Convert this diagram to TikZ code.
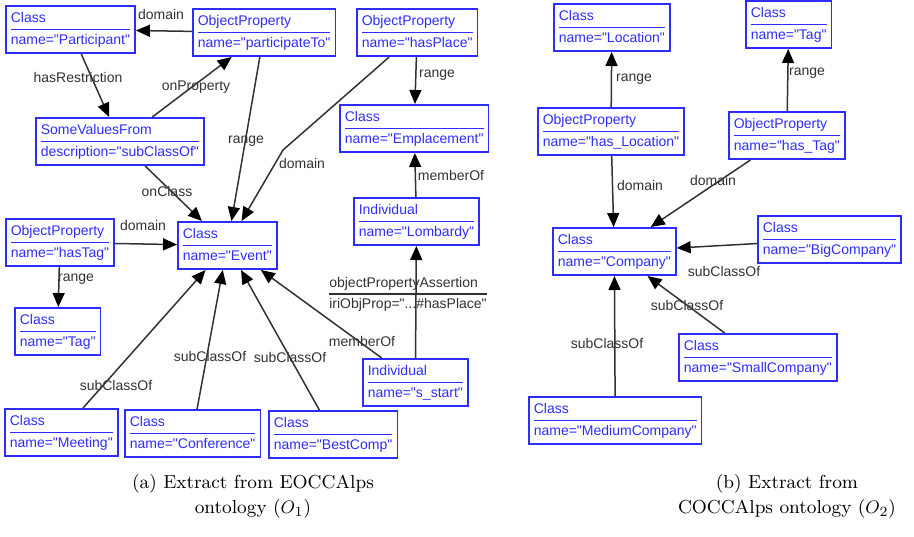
\documentclass[tikz,border=0pt]{standalone}
\usepackage{fontspec}
\usetikzlibrary{arrows.meta}
\newfontfamily\owlfont{Liberation Sans}
\definecolor{owlblue}{RGB}{45,45,255}
\definecolor{owlgray}{RGB}{50,50,50}
\setlength{\arrayrulewidth}{0.7pt}
\newcommand{\owlrec}[2]{\begin{tabular}{@{}l@{}}#1\\\hline #2\end{tabular}}
\tikzset{every picture/.style={line width=0.75pt}}
\tikzset{
  owlbox/.style={draw=owlblue, text=owlblue, line width=0.8pt, inner xsep=2.5pt, inner ysep=1.5pt, anchor=north west, font=\owlfont\fontsize{7}{10}\selectfont},
  owlarrow/.style={draw=owlgray, line width=0.75pt, -{Triangle[length=7pt,width=6pt,color=black]}},
  owllabel/.style={text=owlgray, inner sep=0pt, font=\owlfont\fontsize{7}{10}\selectfont},
  owlcaption/.style={anchor=north, inner sep=0pt, align=center, font=\fontsize{9.4}{12.4}\selectfont}
}

\begin{document}
\begin{tikzpicture}[x=0.5pt,y=0.5pt,yscale=-1]
\useasboundingbox (0,0) rectangle (914,536);

% (a) EOCCAlps boxes
\node[owlbox] (participant) at (5,5) {\owlrec{Class}{name="Participant"}};
\node[owlbox] (participateTo) at (192,8) {\owlrec{ObjectProperty}{name="participateTo"}};
\node[owlbox] (hasPlace) at (356,8) {\owlrec{ObjectProperty}{name="hasPlace"}};
\node[owlbox] (emplacement) at (339,104) {\owlrec{Class}{name="Emplacement"}};
\node[owlbox] (lombardy) at (353,197) {\owlrec{Individual}{name="Lombardy"}};
\node[owlbox] (someValues) at (35,117) {\owlrec{SomeValuesFrom}{description="subClassOf"}};
\node[owlbox] (event) at (177,221) {\owlrec{Class}{name="Event"}};
\node[owlbox] (hasTag) at (5,218) {\owlrec{ObjectProperty}{name="hasTag"}};
\node[owlbox] (tagA) at (14,307) {\owlrec{Class}{name="Tag"}};
\node[owlbox] (meeting) at (4,408) {\owlrec{Class}{name="Meeting"}};
\node[owlbox] (conference) at (124,409) {\owlrec{Class}{name="Conference"}};
\node[owlbox] (bestComp) at (268,410) {\owlrec{Class}{name="BestComp"}};
\node[owlbox] (sStart) at (362,358) {\owlrec{Individual}{name="s\_start"}};

% (a) edges
\draw[owlarrow] (participateTo) -- (participant);
\draw[owlarrow] (participant) -- (someValues);
\draw[owlarrow] (someValues) -- (participateTo);
\draw[owlarrow] (someValues) -- (event);
\draw[owlarrow] (participateTo) -- (event);
\coordinate (placeBend) at (283,150);
\draw[owlarrow] (hasPlace) -- (placeBend) -- (event);
\draw[owlarrow] (hasPlace) -- (emplacement);
\draw[owlarrow] (lombardy) -- (emplacement);
\draw[owlarrow] (sStart) -- (lombardy);
\draw[owlarrow] (sStart) -- (event);
\draw[owlarrow] (hasTag) -- (event);
\draw[owlarrow] (hasTag) -- (tagA);
\draw[owlarrow] (meeting) -- (event);
\draw[owlarrow] (conference) -- (event);
\draw[owlarrow] (bestComp) -- (event);

% (a) edge labels
\node[owllabel] (lDomPart) at (161,14) {domain};
\node[owllabel] (lRestr) at (78,77) {hasRestriction};
\node[owllabel] (lOnProp) at (196,87) {onProperty};
\node[owllabel] (lRangeEv) at (246,141) {range};
\node[owllabel] (lDomPlace) at (302,163) {domain};
\node[owllabel] (lOnClass) at (167,191) {onClass};
\node[owllabel] (lDomTag) at (143,225) {domain};
\node[owllabel] (lRangeTag) at (76,279) {range};
\node[owllabel] (lSubMeet) at (116,385) {subClassOf};
\node[owllabel] (lSubConf) at (210,356) {subClassOf};
\node[owllabel] (lSubBest) at (290,357) {subClassOf};
\node[owllabel] (lMemEv) at (362,341) {memberOf};
\node[owllabel] (lRangeEmpl) at (437,75) {range};
\node[owllabel] (lMemEmpl) at (451,175) {memberOf};
\node[owllabel] (lAssert) at (408,294) {\color{owlgray}\owlrec{objectPropertyAssertion}{iriObjProp="...\#hasPlace"}};

% (b) COCCAlps boxes
\node[owlbox] (location) at (553,3) {\owlrec{Class}{name="Location"}};
\node[owlbox] (tagB) at (745,0) {\owlrec{Class}{name="Tag"}};
\node[owlbox] (hasLocation) at (537,107) {\owlrec{ObjectProperty}{name="has\_Location"}};
\node[owlbox] (hasTagB) at (728,111) {\owlrec{ObjectProperty}{name="has\_Tag"}};
\node[owlbox] (company) at (552,227) {\owlrec{Class}{name="Company"}};
\node[owlbox] (bigCompany) at (757,215) {\owlrec{Class}{name="BigCompany"}};
\node[owlbox] (smallCompany) at (678,333) {\owlrec{Class}{name="SmallCompany"}};
\node[owlbox] (mediumCompany) at (528,396) {\owlrec{Class}{name="MediumCompany"}};

% (b) edges
\draw[owlarrow] (hasLocation) -- (location);
\draw[owlarrow] (hasTagB) -- (tagB);
\draw[owlarrow] (hasLocation) -- (company);
\draw[owlarrow] (hasTagB) -- (company);
\draw[owlarrow] (bigCompany) -- (company);
\draw[owlarrow] (smallCompany) -- (company);
\draw[owlarrow] (mediumCompany) -- (company);

% (b) edge labels
\node[owllabel] (lRangeLoc) at (634,79) {range};
\node[owllabel] (lRangeTagB) at (807,73) {range};
\node[owllabel] (lDomLoc) at (640,185) {domain};
\node[owllabel] (lDomTagB) at (713,180) {domain};
\node[owllabel] (lSubBig) at (724,271) {subClassOf};
\node[owllabel] (lSubSmall) at (687,305) {subClassOf};
\node[owllabel] (lSubMed) at (607,343) {subClassOf};

% captions
\node[owlcaption] (capA) at (253,474) {(a) Extract from EOCCAlps\\ontology ($O_1$)};
\node[owlcaption] (capB) at (787,474) {(b) Extract from\\COCCAlps ontology ($O_2$)};

\end{tikzpicture}
\end{document}
